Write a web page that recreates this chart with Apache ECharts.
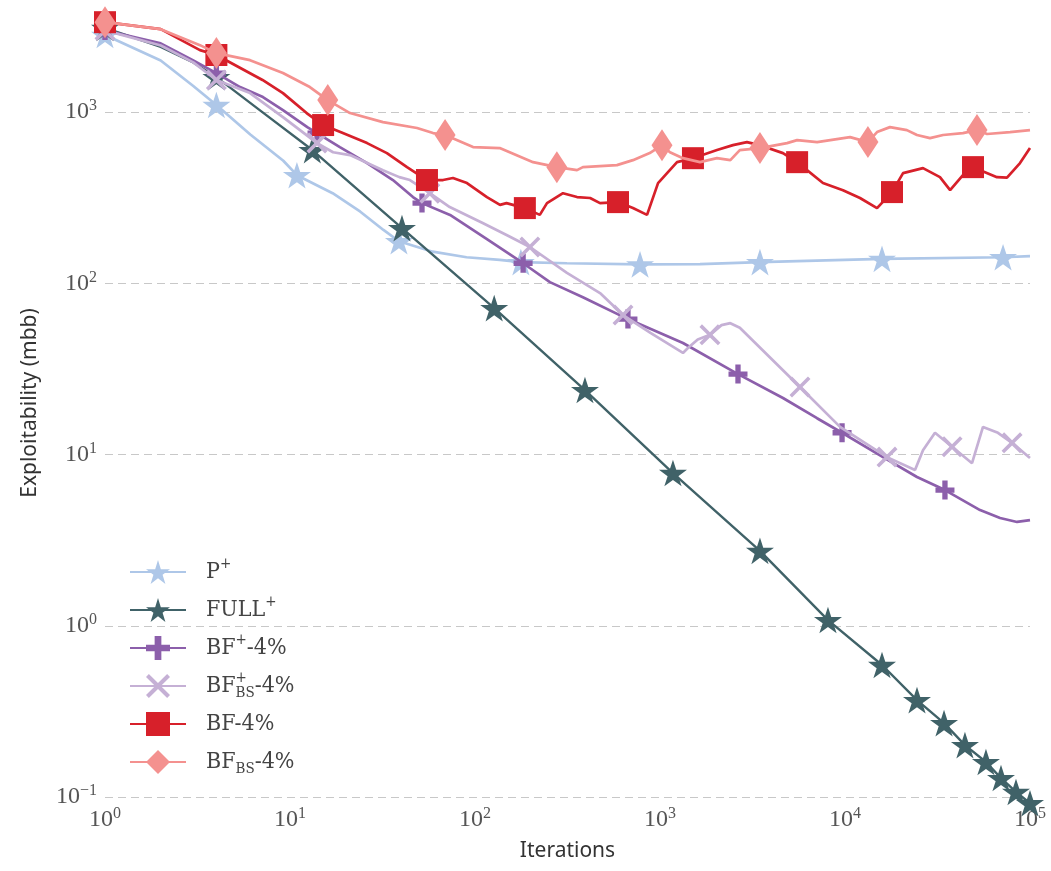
<!DOCTYPE html>
<html><head><meta charset="utf-8">
<script src="https://cdn.jsdelivr.net/npm/echarts@6/dist/echarts.min.js"></script>
<style>html,body{margin:0;padding:0;background:#fff}#c{width:1051px;height:871px}</style>
</head><body><div id="c"></div>
<script>
// ---- P+ ----
const pPlusX = [2, 3, 6.1, 9.2, 17, 24, 32, 59, 90, 136, 314, 1645, 100000];
const pPlusY = [2000, 1420, 740, 520, 336, 262, 205, 153, 142, 137, 131, 129.5, 144];
const pPlusMarkX = [1, 4, 10.9, 38.8, 177, 780, 3470, 15850, 71500];
const pPlusMarkY = [2820, 1100, 428, 176, 133, 129, 133, 139, 142];

// ---- FULL+ ----
const fullX = [2, 3, 7];
const fullY = [2400, 1950, 1010];
const fullMarkX = [1, 4, 13.2, 40.3, 127, 393, 1175, 3470, 8090, 15850, 24500, 34300, 44500, 57800, 69700, 84000, 100000];
const fullMarkY = [3100, 1600, 600, 210, 71.6, 23.8, 7.8, 2.74, 1.08, 0.59, 0.368, 0.27, 0.201, 0.16, 0.129, 0.107, 0.092];

// ---- BF+-4% ----
const bfPlusX = [2, 3, 5.37, 7.14, 9.16, 12.4, 18.6, 26.1, 36, 46.2, 73.3, 116, 254, 383, 1331, 4620, 7060, 16040, 24500, 53700, 68900, 85100, 100000];
const bfPlusY = [2520, 2000, 1400, 1224, 1027, 817, 625, 504, 401, 319, 251, 181, 101.6, 83, 44.8, 21.4, 16.3, 9.66, 7.39, 4.74, 4.26, 4.04, 4.14];
const bfPlusMarkX = [1, 4, 14, 51.7, 182, 671, 2640, 9640, 34700];
const bfPlusMarkY = [3000, 1690, 754, 294, 131, 61.8, 29.5, 13.4, 6.2];

// ---- BF_BS+-4% ----
const bfBsPlusX = [2, 3, 6.08, 9.16, 17.1, 21.1, 31.8, 39, 44.5, 73, 110, 149, 314, 474, 888, 1331, 1420, 1600, 2150, 2400, 2700, 9400, 23900, 26400, 30650, 48600, 55700, 67100, 100000];
const bfBsPlusY = [2450, 1950, 1291, 935, 583, 561, 458, 417, 401, 279, 225, 191, 115, 87.7, 51.3, 39.2, 42, 47, 57, 58.5, 55, 14.5, 8.13, 10.6, 13.4, 8.9, 14.5, 13.4, 9.55];
const bfBsPlusMarkX = [1, 4, 14, 57, 198, 631, 1862, 5710, 16870, 37900, 80000];
const bfBsPlusMarkY = [3000, 1540, 659, 336, 163, 65.3, 50, 24.8, 9.66, 11.1, 11.7];

// ---- BF-4% ----
const bfX = [2, 3.26, 7.1, 9.16, 12.3, 19.3, 26.1, 33.4, 42.9, 67.2, 76, 90.5, 116, 136.5, 148, 224, 245, 299, 356, 419, 474, 714, 851, 976, 1236, 2033, 2480, 2950, 3470, 4620, 7600, 9750, 12050, 14900, 20600, 26400, 32600, 37000, 43400, 66300, 75100, 88300, 100000];
const bfY = [3050, 2300, 1540, 1291, 987, 754, 659, 576, 477, 401, 412, 385, 319, 287, 294, 251, 294, 336, 319, 315, 294, 275, 251, 385, 510, 600, 641, 668, 641, 576, 385, 350, 315, 275, 440, 471, 417, 350, 429, 417, 414, 504, 616];
const bfMarkX = [1, 4, 15.1, 55, 186, 593, 1507, 5510, 17950, 49200];
const bfMarkY = [3350, 2155, 840, 401, 275, 298, 538, 510, 341, 477];

// ---- BF_BS-4% ----
const bfBsX = [2, 3.26, 6.08, 9.16, 12.8, 21.1, 31.8, 48.6, 59.3, 97.6, 136, 206, 356, 383, 585, 714, 880, 1132, 1331, 1645, 2030, 2400, 2700, 4860, 5510, 7070, 10650, 14900, 17500, 21600, 24500, 28800, 33900, 43400, 58600, 78000, 100000];
const bfBsY = [3050, 2460, 2010, 1690, 1400, 987, 874, 807, 754, 625, 616, 510, 458, 477, 490, 524, 576, 583, 538, 510, 538, 524, 600, 659, 686, 668, 714, 764, 817, 785, 735, 705, 735, 754, 745, 764, 785];
const bfBsMarkX = [1, 4, 16, 68.9, 277, 1025, 3470, 13300, 51700];
const bfBsMarkY = [3350, 2210, 1175, 735, 477, 641, 616, 668, 785];

// axis bounds
const xRange = [1, 100000];
const yRange = [0.1, 4000];

const STAR = 'path://M50,0 L61.2,34.5 L97.6,34.5 L68.2,55.9 L79.4,90.5 L50,69.1 L20.6,90.5 L31.8,55.9 L2.4,34.5 L38.8,34.5 Z';
const PLUS = 'path://M36,0 H64 V36 H100 V64 H64 V100 H36 V64 H0 V36 H36 Z';
const CROSS = 'path://M0,12 L12,0 L50,38 L88,0 L100,12 L62,50 L100,88 L88,100 L50,62 L12,100 L0,88 L38,50 Z';

const legendText = {
  'P+': 'P{sup|+}',
  'FULL+': 'FULL{sup|+}',
  'BF+-4%': 'BF{sup|+}-4%',
  'BFBS+-4%': 'BF{supz|+}{sub|BS}-4%',
  'BF-4%': 'BF-4%',
  'BFBS-4%': 'BF{sub|BS}-4%'
};

function build(lx, ly, mx, my) {
  const pts = [];
  lx.forEach((x, i) => pts.push({ value: [x, ly[i]], symbol: 'none' }));
  mx.forEach((x, i) => pts.push({ value: [x, my[i]] }));
  pts.sort((a, b) => a.value[0] - b.value[0]);
  return pts;
}

const defs = [
  { name: 'P+', color: '#aec7e8', symbol: STAR, size: 28, w: 2.7, d: build(pPlusX, pPlusY, pPlusMarkX, pPlusMarkY) },
  { name: 'FULL+', color: '#406268', symbol: STAR, size: 28, w: 2.4, d: build(fullX, fullY, fullMarkX, fullMarkY) },
  { name: 'BF+-4%', color: '#8c5fab', symbol: PLUS, size: 19, w: 2.7, d: build(bfPlusX, bfPlusY, bfPlusMarkX, bfPlusMarkY) },
  { name: 'BFBS+-4%', color: '#c5b0d5', symbol: CROSS, size: 21, w: 2.7, d: build(bfBsPlusX, bfBsPlusY, bfBsPlusMarkX, bfBsPlusMarkY) },
  { name: 'BF-4%', color: '#d7202a', symbol: 'rect', size: 22, w: 2.7, d: build(bfX, bfY, bfMarkX, bfMarkY) },
  { name: 'BFBS-4%', color: '#f4918f', symbol: 'diamond', size: [21, 32], w: 2.7, d: build(bfBsX, bfBsY, bfBsMarkX, bfBsMarkY) }
];

function powLabel(v) {
  const l = Math.log10(v);
  const e = Math.round(l);
  if (Math.abs(l - e) > 1e-6) return '';
  return '{b|10}{e|' + (e < 0 ? '\u2212' + (-e) : e) + '}';
}
const tickRich = {
  b: { fontFamily: 'Liberation Serif', fontSize: 24, color: '#555', lineHeight: 28 },
  e: { fontFamily: 'Liberation Serif', fontSize: 16, color: '#555', lineHeight: 16, verticalAlign: 'top' }
};
const legFont = "'DejaVu Serif Condensed', 'DejaVu Serif', serif";

const chart = echarts.init(document.getElementById('c'));
chart.setOption({
  animation: false,
  backgroundColor: '#fff',
  grid: { left: 105, right: 21, top: 9, bottom: 74 },
  xAxis: {
    type: 'log', logBase: 10, min: xRange[0], max: xRange[1],
    axisLine: { show: false }, axisTick: { show: false }, splitLine: { show: false },
    axisLabel: { formatter: powLabel, rich: tickRich, margin: 9 },
    name: 'Iterations', nameLocation: 'middle', nameGap: 44,
    nameTextStyle: { fontFamily: 'Noto Sans', fontSize: 21, color: '#333' }
  },
  yAxis: {
    type: 'log', logBase: 10, min: yRange[0], max: yRange[1],
    axisLine: { show: false }, axisTick: { show: false },
    splitLine: { show: true, showMaxLine: false, lineStyle: { color: '#c8c8c8', width: 1, type: [8, 5] } },
    axisLabel: { formatter: powLabel, rich: tickRich, margin: 8, showMaxLabel: false },
    name: 'Exploitability (mbb)', nameLocation: 'middle', nameGap: 64,
    nameTextStyle: { fontFamily: 'Noto Sans', fontSize: 21, color: '#333' }
  },
  legend: {
    orient: 'vertical', left: 124, top: 552,
    itemWidth: 56, itemHeight: 30, itemGap: 8,
    data: defs.map(d => d.name),
    formatter: n => legendText[n],
    textStyle: {
      fontFamily: legFont, fontSize: 23, color: '#444', lineHeight: 30, padding: [0, 0, 0, 15],
      rich: {
        sup: { fontFamily: legFont, fontSize: 15, color: '#444', lineHeight: 15, verticalAlign: 'top' },
        supz: { fontFamily: legFont, fontSize: 15, color: '#444', lineHeight: 15, verticalAlign: 'top', width: 0 },
        sub: { fontFamily: legFont, fontSize: 15, color: '#444', lineHeight: 15, verticalAlign: 'bottom' }
      }
    }
  },
  series: defs.map((d, i) => ({
    type: 'line', name: d.name, data: d.d, z: 2 + i,
    symbol: d.symbol, symbolSize: d.size, symbolKeepAspect: true,
    showSymbol: true, showAllSymbol: true, clip: false,
    lineStyle: { color: d.color, width: d.w },
    itemStyle: { color: d.color },
    emphasis: { disabled: true }
  }))
});
</script>
</body></html>
